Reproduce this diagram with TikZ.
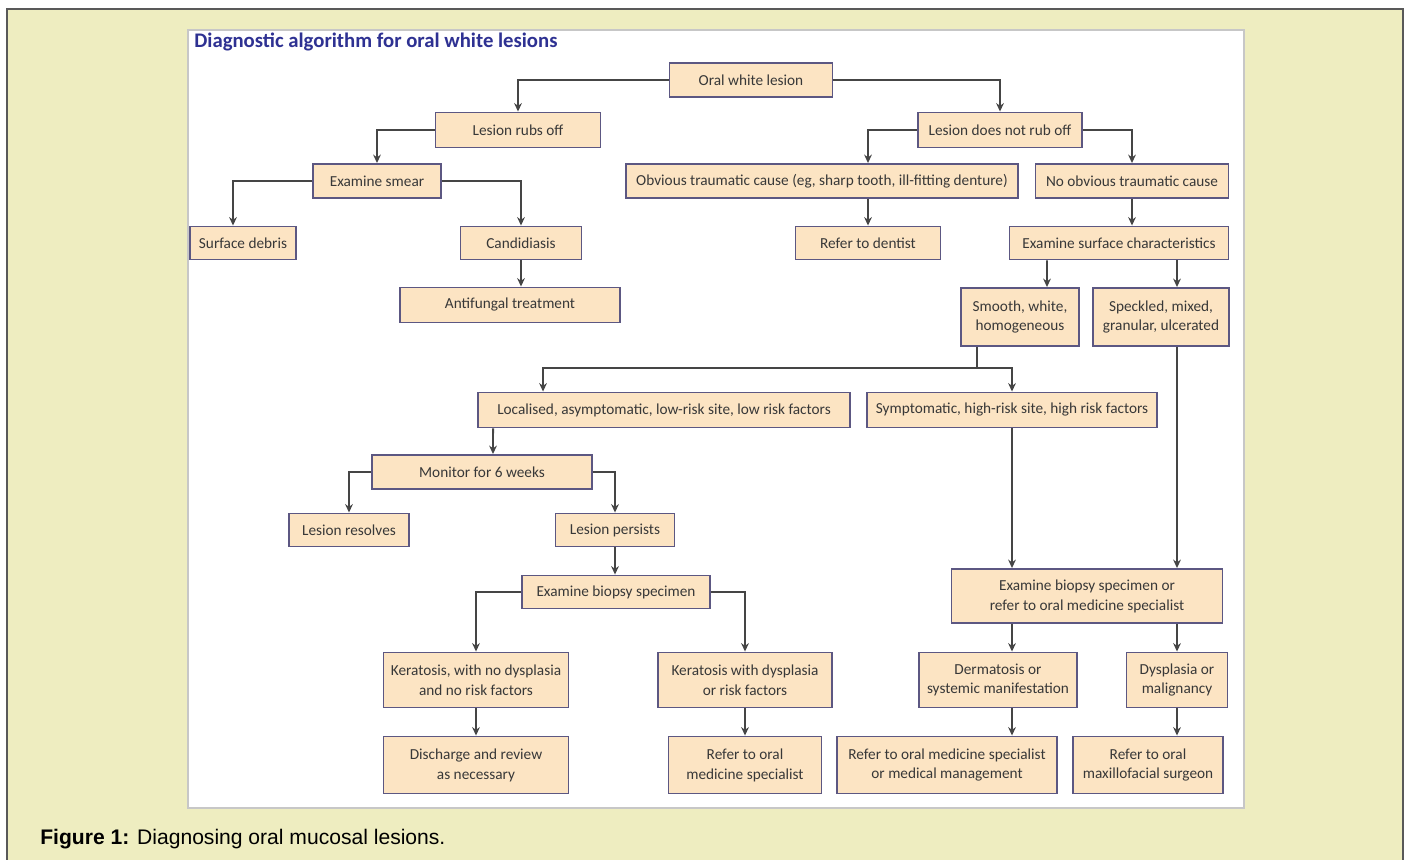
\documentclass[tikz,border=0pt]{standalone}
\usepackage{fontspec}
\setmainfont{Carlito}
\newfontfamily\capfont{Liberation Sans}
\usetikzlibrary{arrows.meta}
\definecolor{pagebg}{HTML}{EEEDC0}
\definecolor{boxfill}{HTML}{FCE4C3}
\definecolor{boxline}{HTML}{5C5782}
\definecolor{linkgrey}{HTML}{454545}
\definecolor{titleblue}{HTML}{2E3192}
\tikzset{
  box/.style={draw=boxline,fill=boxfill,line width=1.1pt,align=center,inner sep=0pt,
    text=black!78,font=\fontsize{8.7}{11.3}\selectfont},
  sz/.style 2 args={minimum width=#1*0.02cm,minimum height=#2*0.02cm},
  link/.style={draw=linkgrey,line width=1.1pt,-{Stealth[length=4.8pt,width=4.4pt]}},
  plain/.style={draw=linkgrey,line width=1.1pt},
}
\begin{document}
\begin{tikzpicture}[x=0.02cm,y=-0.02cm]
                \useasboundingbox (0,0) rectangle (1406,859);
                \clip (0,0) rectangle (1406,859);
                \fill[white] (0,0) rectangle (1406,859);
                \draw[fill=pagebg,draw=black!65,line width=0.9pt] (7,9) rectangle (1403,890);
                \draw[fill=white,draw=black!22,line width=0.6pt] (188,30) rectangle (1244,808);
                \node[anchor=base west,inner sep=0pt,text=titleblue,font=\fontsize{11.8}{13}\selectfont\bfseries] (title) at (194,47) {Diagnostic algorithm for oral white lesions};
                % first levels
                \node[box,sz={163}{34}] (ow) at (751,80) {Oral white lesion};
                \node[box,sz={165}{35}] (rub) at (518,130) {Lesion rubs off};
                \node[box,sz={164}{35}] (norub) at (1000,130) {Lesion does not rub off};
                \node[box,sz={128}{34}] (smear) at (377,181) {Examine smear};
                \node[box,sz={392}{34}] (obv) at (822,181) {Obvious traumatic cause (eg, sharp tooth, ill-fitting denture)};
                \node[box,sz={193}{34}] (noobv) at (1132,181) {No obvious traumatic cause};
                \node[box,sz={106}{33}] (deb) at (243,243) {Surface debris};
                \node[box,sz={121}{33}] (cand) at (521,243) {Candidiasis};
                \node[box,sz={145}{33}] (dent) at (868,243) {Refer to dentist};
                \node[box,sz={219}{33}] (surf) at (1119,243) {Examine surface characteristics};
                \node[box,sz={220}{35}] (anti) at (510,305) {Antifungal treatment};
                \node[box,sz={118}{58}] (smooth) at (1020,317) {Smooth, white,\\homogeneous};
                \node[box,sz={136}{58}] (speck) at (1161,317) {Speckled, mixed,\\granular, ulcerated};
                % risk level
                \node[box,sz={372}{35}] (loc) at (664,410) {Localised, asymptomatic, low-risk site, low risk factors};
                \node[box,sz={290}{35}] (symp) at (1012,410) {Symptomatic, high-risk site, high risk factors};
                \node[box,sz={220}{34}] (mon) at (482,472) {Monitor for 6 weeks};
                \node[box,sz={120}{33}] (res) at (349,530) {Lesion resolves};
                \node[box,sz={119}{33}] (pers) at (615,530) {Lesion persists};
                \node[box,sz={188}{33}] (bio) at (616,592) {Examine biopsy specimen};
                \node[box,sz={271}{54}] (bio2) at (1087,596) {Examine biopsy specimen or\\refer to oral medicine specialist};
                % outcomes
                \node[box,sz={185}{55}] (kerno) at (476,680) {Keratosis, with no dysplasia\\and no risk factors};
                \node[box,sz={174}{55}] (kerdys) at (745,680) {Keratosis with dysplasia\\or risk factors};
                \node[box,sz={158}{55}] (derm) at (998,680) {Dermatosis or\\systemic manifestation};
                \node[box,sz={101}{55}] (dysp) at (1177,680) {Dysplasia or\\malignancy};
                \node[box,sz={185}{57}] (disch) at (476,765) {Discharge and review\\as necessary};
                \node[box,sz={153}{57}] (refo) at (745,765) {Refer to oral\\medicine specialist};
                \node[box,sz={220}{57}] (refmed) at (947,765) {Refer to oral medicine specialist\\or medical management};
                \node[box,sz={150}{57}] (maxf) at (1148,765) {Refer to oral\\maxillofacial surgeon};
                % connectors
                \draw[link] (ow.west) -| (rub.north);
                \draw[link] (ow.east) -| (norub.north);
                \draw[link] (rub.west) -| (smear.north);
                \draw[link] (norub.west) -| (obv.north -| dent.north);
                \draw[link] (norub.east) -| (noobv.north);
                \draw[link] (smear.west) -| ([xshift=-0.2cm]deb.north);
                \draw[link] (smear.east) -| (cand.north);
                \draw[link] (cand.south) -- (cand.south |- anti.north);
                \draw[link] (obv.south -| dent.north) -- (dent.north);
                \draw[link] (noobv.south) -- (noobv.south |- surf.north);
                \draw[link] ([xshift=-1.44cm]surf.south) -- ([xshift=0.54cm]smooth.north);
                \draw[link] (surf.south -| dysp.north) -- (speck.north -| dysp.north);
                \draw[plain] ([xshift=-0.86cm]smooth.south) -- ++(0,21) coordinate (fork);
                \draw[link] (fork) -| ([xshift=-2.42cm]loc.north);
                \draw[link] (fork) -| (symp.north);
                \draw[link] (speck.south -| dysp.north) -- (bio2.north -| dysp.north);
                \draw[link] (symp.south) -- (bio2.north -| symp.south);
                \draw[link] ([xshift=-3.42cm]loc.south) -- ([xshift=0.22cm]mon.north);
                \draw[link] (mon.west) -| (res.north);
                \draw[link] (mon.east) -| (pers.north);
                \draw[link] (pers.south) -- (pers.south |- bio.north);
                \draw[link] (bio.west) -| (kerno.north);
                \draw[link] (bio.east) -| (kerdys.north);
                \draw[link] (kerno.south) -- (disch.north);
                \draw[link] (kerdys.south) -- (refo.north);
                \draw[link] (bio2.south -| symp.south) -- (derm.north -| symp.south);
                \draw[link] (derm.south -| symp.south) -- (refmed.north -| symp.south);
                \draw[link] (bio2.south -| dysp.south) -- (dysp.north);
                \draw[link] (dysp.south) -- (maxf.north -| dysp.south);
                % caption
                \node[anchor=base west,inner sep=0pt,font=\capfont\fontsize{12}{14}\selectfont] (cap) at (40,844) {\textbf{Figure 1:} Diagnosing oral mucosal lesions.};
            \end{tikzpicture}
\end{document}
